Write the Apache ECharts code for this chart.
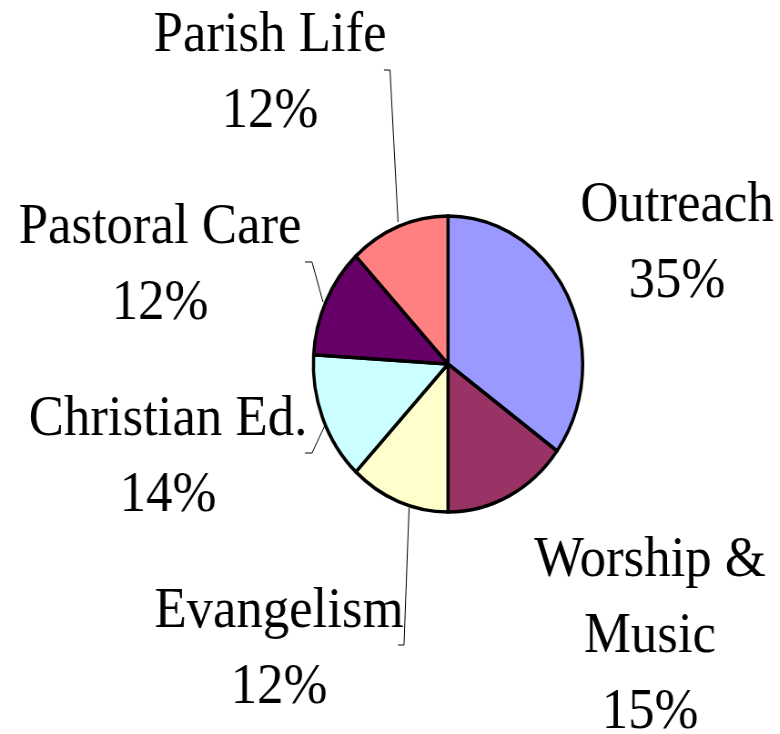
<!DOCTYPE html>
<html>
<head>
<meta charset="utf-8">
<script src="https://cdn.jsdelivr.net/npm/echarts@6/dist/echarts.min.js"></script>
<style>
html,body{margin:0;padding:0;overflow:hidden;background:#fff;width:780px;height:734px;}
#wrap{width:780px;height:734px;overflow:hidden;position:relative;}
#c{width:857px;height:734px;transform:scaleX(0.91);transform-origin:0 0;}
</style>
</head>
<body>
<div id="wrap"><div id="c"></div></div>
<script>
// Data
const categories = ['Outreach', 'Worship &\nMusic', 'Evangelism', 'Christian Ed.', 'Pastoral Care', 'Parish Life'];
const percents = [35, 15, 12, 14, 12, 12];
const colors = ['#9999FF', '#993366', '#FFFFCC', '#CCFFFF', '#660066', '#FF8080'];

// Label placement (unscaled chart coordinates) and leader lines
const SX = 1 / 0.91;
const labelCenters = [
  [677, 244], [650, 637], [279, 650], [168, 458], [160, 266], [270, 74]
];
const leaderLines = [
  null, null,
  [[398, 645], [404, 645], [409, 508]],
  [[305, 453], [312, 453], [325, 425]],
  [[305, 262], [312, 262], [323, 302]],
  [[384, 70], [390, 70], [398, 222]]
];

const chart = echarts.init(document.getElementById('c'), null, {renderer: 'canvas'});
chart.setOption({
  animation: false,
  backgroundColor: '#ffffff',
  series: [{
    type: 'pie',
    center: [448 * SX, 364],
    radius: 148,
    startAngle: 90,
    clockwise: true,
    avoidLabelOverlap: false,
    itemStyle: {borderColor: '#000', borderWidth: 3.5},
    label: {
      show: true,
      position: 'outside',
      formatter: p => p.name + '\n' + p.value + '%',
      fontFamily: 'Liberation Serif, Times New Roman, serif',
      fontSize: 58,
      lineHeight: 76,
      color: '#000',
      align: 'center'
    },
    labelLine: {show: true, lineStyle: {color: '#000', width: 1}},
    labelLayout: function (params) {
      const i = params.dataIndex;
      const c = labelCenters[i];
      const res = {x: c[0] * SX, y: c[1], align: 'center', verticalAlign: 'middle'};
      if (leaderLines[i]) {
        res.labelLinePoints = leaderLines[i].map(pt => [pt[0] * SX, pt[1]]);
      }
      return res;
    },
    data: categories.map((name, i) => ({
      name: name,
      value: percents[i],
      itemStyle: {color: colors[i]},
      labelLine: {show: !!leaderLines[i]}
    }))
  }]
});
</script>
</body>
</html>
